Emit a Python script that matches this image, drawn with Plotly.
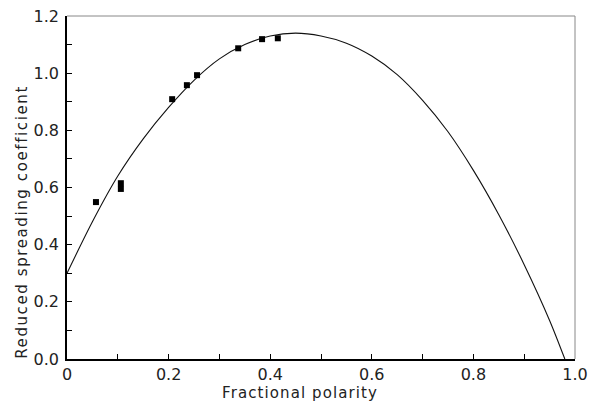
import plotly.graph_objects as go

# Fitted curve
curve_x = [0, 0.05, 0.1, 0.15, 0.2, 0.25, 0.3, 0.35, 0.4, 0.45, 0.5, 0.55, 0.6,
           0.65, 0.7, 0.75, 0.8, 0.85, 0.9, 0.95, 0.98]
curve_y = [0.30, 0.48, 0.64, 0.77, 0.88, 0.975, 1.05, 1.10, 1.13, 1.14, 1.13, 1.105,
           1.06, 0.995, 0.905, 0.795, 0.66, 0.505, 0.33, 0.135, 0.0]

# Measured points
pts_x = [0.057, 0.106, 0.106, 0.207, 0.236, 0.256, 0.337, 0.384, 0.415]
pts_y = [0.549, 0.595, 0.615, 0.909, 0.958, 0.993, 1.087, 1.119, 1.122]

x_tickvals = [0, 0.2, 0.4, 0.6, 0.8, 1.0]
x_ticktext = ["0", "0.2", "0.4", "0.6", "0.8", "1.0"]
y_tickvals = [0, 0.2, 0.4, 0.6, 0.8, 1.0, 1.2]
y_ticktext = ["0.0", "0.2", "0.4", "0.6", "0.8", "1.0", "1.2"]

x_title = "Fractional polarity"
y_title = "Reduced spreading coefficient"

FONT = "DejaVu Sans"

fig = go.Figure()
fig.add_trace(go.Scatter(x=curve_x, y=curve_y, mode="lines",
                         line=dict(color="#111", width=1.1, shape="spline", smoothing=0.8),
                         showlegend=False, hoverinfo="skip"))
fig.add_trace(go.Scatter(x=pts_x, y=pts_y, mode="markers",
                         marker=dict(symbol="square", size=6, color="black"),
                         showlegend=False))

axis_common = dict(showgrid=False, zeroline=False, showline=True, linecolor="black",
                   linewidth=1.5, ticks="inside", ticklen=5, tickcolor="black",
                   automargin=False,
                   tickfont=dict(family=FONT, size=16, color="#222"))

fig.update_xaxes(range=[0, 1.0], tickvals=x_tickvals, ticktext=x_ticktext,
                 minor=dict(dtick=0.1, ticks="inside", ticklen=5, tickcolor="black"),
                 ticklabelstandoff=0,
                 **axis_common)
fig.update_yaxes(range=[0, 1.2], tickvals=y_tickvals, ticktext=y_ticktext,
                 minor=dict(dtick=0.1, ticks="inside", ticklen=5, tickcolor="black"),
                 ticklabelstandoff=3,
                 **axis_common)

fig.add_annotation(text=f'<span style="letter-spacing:1.1px">{x_title}</span>',
                   xref="paper", yref="paper", x=0.459, y=0, yshift=-34,
                   xanchor="center", yanchor="middle", showarrow=False, borderpad=0,
                   font=dict(family=FONT, size=15, color="#222"))
fig.add_annotation(text=f'<span style="letter-spacing:1.6px">{y_title}</span>',
                   xref="paper", yref="paper", x=0, y=0.40, xshift=-45,
                   xanchor="center", yanchor="middle", textangle=-90, showarrow=False,
                   borderpad=0,
                   font=dict(family=FONT, size=15, color="#222"))

# top and right frame lines (faint)
fig.add_shape(type="line", xref="paper", yref="paper", x0=0, x1=1, y0=1, y1=1,
              line=dict(color="#888", width=1))
fig.add_shape(type="line", xref="paper", yref="paper", x0=1, x1=1, y0=0, y1=1,
              line=dict(color="#888", width=1))

fig.update_layout(width=607, height=404, margin=dict(l=67, r=32, t=16, b=45),
                  paper_bgcolor="white", plot_bgcolor="white",
                  font=dict(family=FONT))

fig.write_html("out.html")
